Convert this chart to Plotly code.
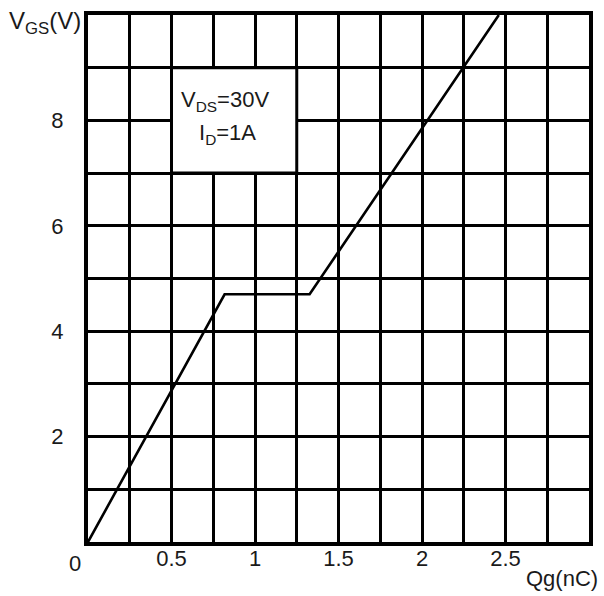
import plotly.graph_objects as go

# Gate charge curve data
qg_nc = [0.0, 0.818, 1.327, 2.46]
vgs_v = [0.0, 4.70, 4.70, 10.0]

x_tick_vals = [0.5, 1.0, 1.5, 2.0, 2.5]
x_tick_text = ["0.5", "1", "1.5", "2", "2.5"]
y_tick_vals = [2, 4, 6, 8]
y_tick_text = ["2", "4", "6", "8"]

cond_line1 = "V<sub>DS</sub>=30V"
cond_line2 = "I<sub>D</sub>=1A"

FONT = "Liberation Sans"
INK = "#1a1a1a"

W, H = 604, 596
ML, MR, MT, MB = 88, 11, 11, 54
pw, ph = W - ML - MR, H - MT - MB


def px_x(px):
    return (px - ML) / pw


def px_y(py):
    return (H - MB - py) / ph


fig = go.Figure()
fig.add_trace(go.Scatter(x=qg_nc, y=vgs_v, mode="lines",
                         line=dict(color="black", width=2.6),
                         hoverinfo="skip", showlegend=False, cliponaxis=True))

# white condition box over the grid
fig.add_shape(type="rect", xref="x", yref="y", x0=0.5, x1=1.25, y0=7, y1=9,
              fillcolor="white", line=dict(color="black", width=3), layer="between")

fig.add_annotation(x=0.82, y=8.36, xref="x", yref="y", text=cond_line1, showarrow=False,
                   font=dict(family=FONT, size=22, color=INK))
fig.add_annotation(x=0.835, y=7.74, xref="x", yref="y", text=cond_line2, showarrow=False,
                   font=dict(family=FONT, size=22, color=INK))

# axis titles and corner zero
fig.add_annotation(x=px_x(6), y=px_y(19), xref="paper", yref="paper", text="V<sub>GS</sub>(V)",
                   showarrow=False, xanchor="left", yanchor="middle",
                   font=dict(family=FONT, size=24, color=INK))
fig.add_annotation(x=0, y=0, xref="x", yref="y", text="0", showarrow=False,
                   xshift=-13, yshift=-21, font=dict(family=FONT, size=22, color=INK))
fig.add_annotation(x=px_x(604), y=px_y(579), xref="paper", yref="paper", text="Qg(nC)",
                   showarrow=False, xanchor="right", yanchor="middle",
                   font=dict(family=FONT, size=22, color=INK))

fig.update_layout(
    width=W, height=H,
    margin=dict(l=ML, r=MR, t=MT, b=MB),
    paper_bgcolor="white", plot_bgcolor="white",
    font=dict(family=FONT, size=22, color=INK),
    xaxis=dict(range=[0, 3], showgrid=False, zeroline=False, showline=True,
               linecolor="black", linewidth=4, mirror=True, tickmode="array",
               tickvals=x_tick_vals, ticktext=x_tick_text, ticks="", ticklen=0,
               ticklabelstandoff=-6, fixedrange=True),
    yaxis=dict(range=[0, 10], showgrid=False, zeroline=False, showline=True,
               linecolor="black", linewidth=4, mirror=True, tickmode="array",
               tickvals=y_tick_vals, ticktext=y_tick_text, ticks="outside",
               ticklen=16, tickcolor="white", fixedrange=True),
)
# gridlines every 1 V and 0.25 nC independent of tick labels
fig.update_xaxes(minor=dict(dtick=0.25, tick0=0, showgrid=True, gridcolor="black", gridwidth=2.8))
fig.update_yaxes(minor=dict(dtick=1, tick0=0, showgrid=True, gridcolor="black", gridwidth=3))

fig.write_html("out.html")
